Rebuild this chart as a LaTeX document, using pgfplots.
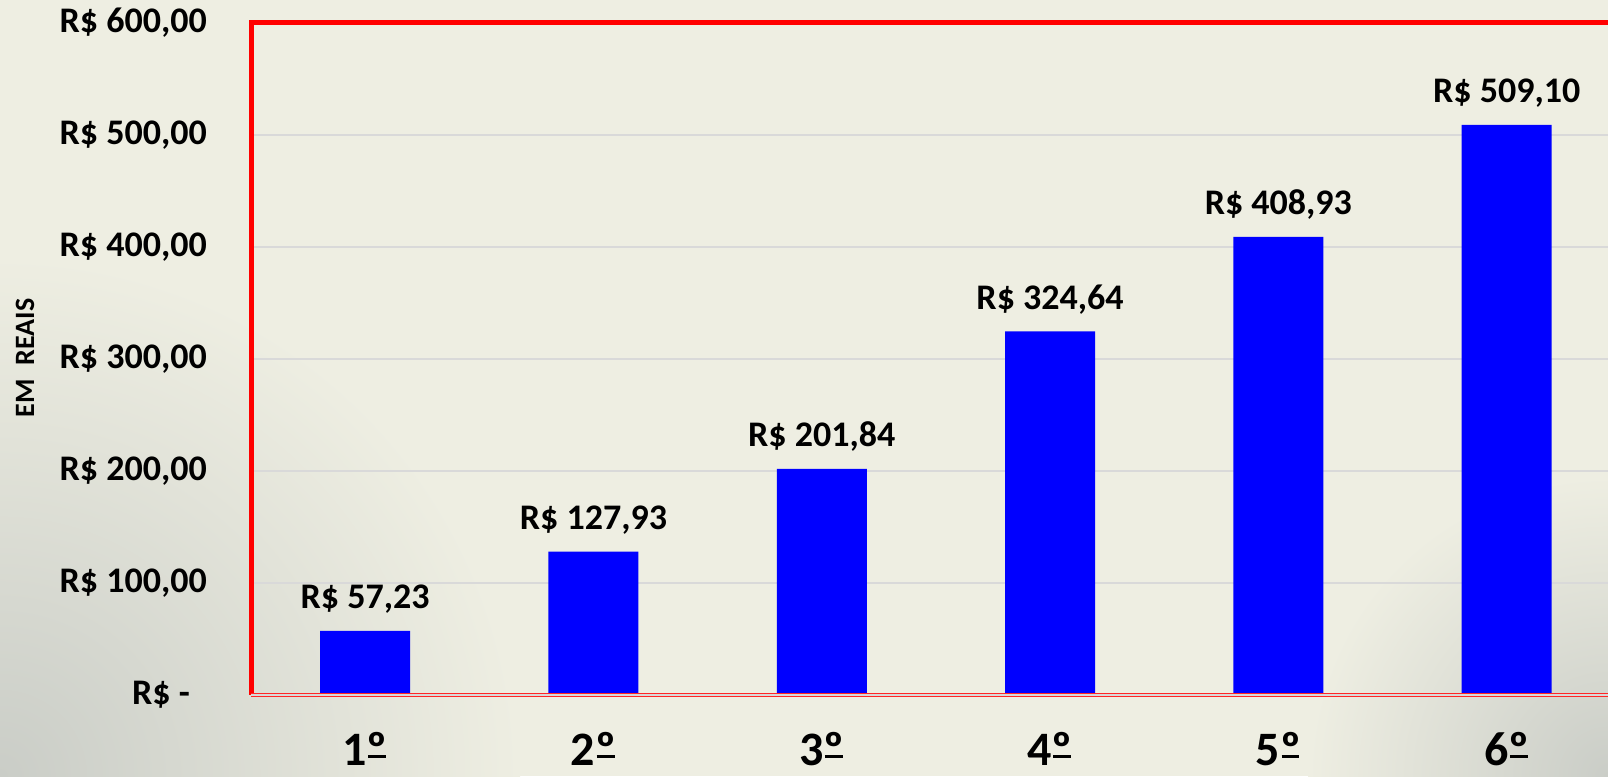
\documentclass[border=0pt]{standalone}
\usepackage{fontspec}
\setmainfont{Carlito}
\usepackage{pgfplots}
\pgfplotsset{compat=1.18}
\definecolor{cream}{RGB}{238,238,226}
\definecolor{corner}{RGB}{202,205,199}
\definecolor{gridc}{RGB}{217,217,217}
\definecolor{barblue}{RGB}{0,0,255}
\newcommand{\ord}{\setbox0\hbox{º}\rlap{\kern1.5pt\rule[7pt]{\dimexpr\wd0-3pt\relax}{3.5pt}}\box0}
\begin{document}
\begin{tikzpicture}
\useasboundingbox (0,0) rectangle (1608pt,776pt);
\fill[cream] (0,0) rectangle (1608pt,776pt);
\begin{scope}
\clip (0,0) rectangle (1608pt,776pt);
\shade[inner color=corner, outer color=cream] (0,0) circle (520pt);
\shade[inner color=corner, outer color=cream] (1608pt,0) circle (300pt);
\end{scope}
\node[rotate=90, font=\fontsize{28}{32}\selectfont\bfseries] at (25pt,418pt) {EM\hspace{0.5em}REAIS};
\begin{axis}[
 at={(251pt,81pt)}, anchor=south west,
 scale only axis, width=1357pt, height=672pt,
 xmin=-0.5, xmax=5.444, ymin=0, ymax=600,
 ybar, bar width=90pt,
 axis line style={draw=none},
 major tick length=0pt,
 xtick={0,...,5}, xticklabels={1\ord,2\ord,3\ord,4\ord,5\ord,6\ord},
 ytick={0,100,...,600},
 yticklabels={{R\$ -\kern17pt},{R\$ 100,00},{R\$ 200,00},{R\$ 300,00},{R\$ 400,00},{R\$ 500,00},{R\$ 600,00}},
 ymajorgrids, major grid style={gridc, line width=2pt},
 yticklabel style={font=\fontsize{36}{40}\selectfont\bfseries, anchor=east, inner sep=0pt, xshift=-44pt},
 xticklabel style={font=\fontsize{48}{54}\selectfont\bfseries, anchor=base, inner sep=0pt, text depth=0pt, yshift=-70pt},
 nodes near coords={R\$ \pgfmathprintnumber[fixed,fixed zerofill,precision=2,use comma,assume math mode=true]{\pgfplotspointmeta}},
 every node near coord/.append style={font=\fontsize{36}{40}\selectfont\bfseries, anchor=base, inner sep=0pt, yshift=22pt, black},
 clip=false,
]
\addplot[fill=barblue, draw=none] coordinates {(0,57.23)(1,127.93)(2,201.84)(3,324.64)(4,408.93)(5,509.10)};
\draw[red, line width=5pt, line join=miter] (rel axis cs:0,0) -- (rel axis cs:0,1) -- (rel axis cs:1,1);
\draw[red!85, line width=1pt, double=gridc, double distance=2pt] (rel axis cs:0,0) -- (rel axis cs:1,0);
\end{axis}
\end{tikzpicture}
\end{document}
